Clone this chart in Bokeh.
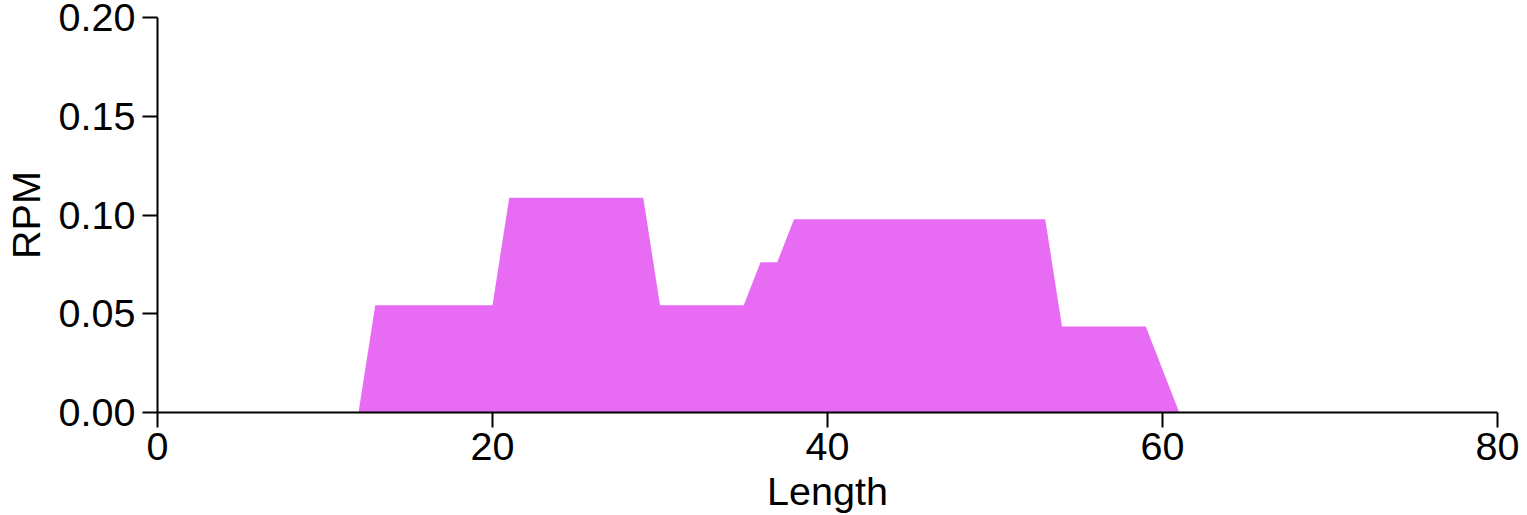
from bokeh.plotting import figure
from bokeh.models import Range1d, FixedTicker, PrintfTickFormatter
from bokeh.embed import file_html
from bokeh.resources import INLINE

# Data (vertices of the area)
lengths = [12, 13, 20, 21, 29, 30, 35, 36, 37, 38, 53, 54, 59, 61]
rpm = [0.0, 0.0543, 0.0543, 0.1087, 0.1087, 0.0543, 0.0543, 0.0761, 0.0761,
       0.0978, 0.0978, 0.0435, 0.0435, 0.0]
x_ticks = [0, 20, 40, 60, 80]
y_ticks = [0.0, 0.05, 0.10, 0.15, 0.20]

FONT = "Liberation Sans"
FS = "39.5px"

p = figure(width=1527, height=515, output_backend="svg", toolbar_location=None,
           x_range=Range1d(0, 80), y_range=Range1d(0, 0.2),
           min_border_left=157, min_border_right=30, min_border_top=17,
           min_border_bottom=103)
p.outline_line_color = None
p.xgrid.visible = False
p.ygrid.visible = False

p.varea(x=lengths, y1=0, y2=rpm, fill_color="#E76BF3", fill_alpha=1.0)

for ax in (p.xaxis[0], p.yaxis[0]):
    ax.axis_line_width = 2
    ax.axis_line_color = "black"
    ax.major_tick_line_width = 2
    ax.major_tick_line_color = "black"
    ax.major_tick_out = 15
    ax.major_tick_in = 0
    ax.minor_tick_line_color = None
    ax.major_label_text_font = FONT
    ax.major_label_text_font_size = FS
    ax.major_label_text_color = "black"
    ax.axis_label_text_font = FONT
    ax.axis_label_text_font_size = FS
    ax.axis_label_text_font_style = "normal"
    ax.axis_label_text_color = "black"

p.xaxis.ticker = FixedTicker(ticks=x_ticks)
p.yaxis.ticker = FixedTicker(ticks=y_ticks)
p.yaxis.formatter = PrintfTickFormatter(format="%.2f")
p.xaxis.axis_label = "Length"
p.yaxis.axis_label = "RPM"
p.xaxis.major_label_standoff = 5
p.yaxis.major_label_standoff = 7
p.xaxis.axis_label_standoff = 6
p.yaxis.axis_label_standoff = 8

open("out.html", "w").write(file_html(p, INLINE))
